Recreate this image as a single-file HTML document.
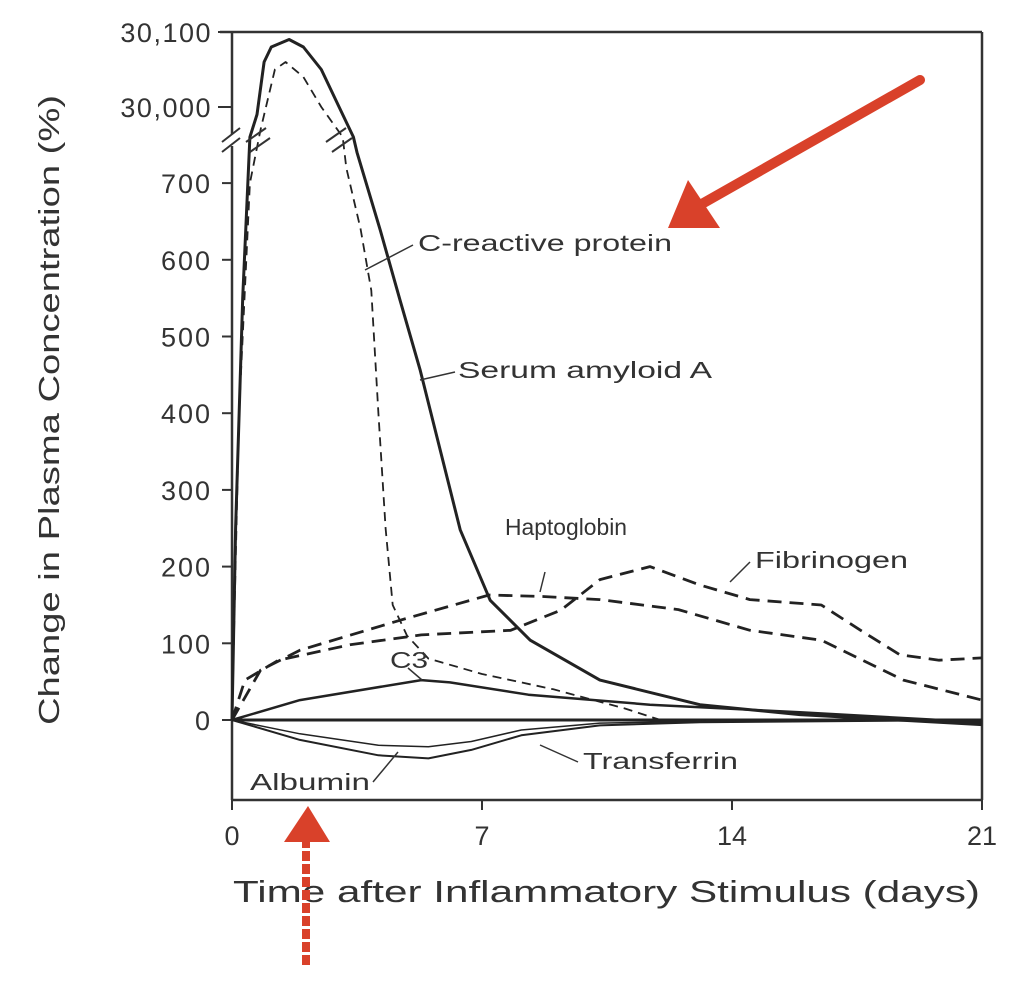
<!DOCTYPE html>
<html><head><meta charset="utf-8"><style>
html,body{margin:0;padding:0;background:#fff;}
svg{display:block;}
text{font-family:"Liberation Sans",sans-serif;fill:#333;}
</style></head><body>
<svg id="chart" width="1022" height="994" viewBox="0 0 1022 994" xmlns="http://www.w3.org/2000/svg">
<g id="frame"></g>
<g id="series"></g>
<g id="labels"></g>
</svg>
<script>
const xTicks=[0,7,14,21];
const yTicksLow=[0,100,200,300,400,500,600,700];
const yTicksHigh=[30000,30100];
const yTickLabelsHigh=["30,000","30,100"];
const saaDays=[0,0.1,0.3,0.5,0.7,0.9,1.1,1.6,2.0,2.5,3.0,3.4,3.5,4.15,4.7,5.27,5.83,6.39,7.23,8.35,10.3,13.1,15.9,21];
const saaVals=[0,250,550,760,29990,30060,30080,30090,30080,30050,30000,29960,740,639,548,456,352,248,156,104,52,20,7,-6];
const crpDays=[0,0.2,0.5,0.8,1.2,1.5,2.0,2.5,3.1,3.2,3.6,3.9,4.1,4.3,4.5,4.9,5.5,7,9,11,12,21];
const crpVals=[0,400,700,29970,30050,30060,30040,30000,29960,720,640,560,400,250,150,110,80,60,40,15,0,0];
const hapDays=[0,0.8,1.9,4.7,7.2,8.7,10.3,12.5,14.5,16.5,18.8,21];
const hapVals=[0,65,91,130,163,161,157,144,117,104,52,26];
const fibDays=[0,0.36,1.3,3.3,5.3,7.8,9.2,10.3,11.7,13.1,14.5,16.5,17.6,18.7,19.8,21];
const fibVals=[0,52,78,98,111,117,143,183,200,176,157,150,117,85,78,81];
const c3Days=[0,1.9,5.3,6.1,8.3,11.7,15.9,21];
const c3Vals=[0,26,52,49,33,20,10,-3];
const albDays=[0,1.9,4.1,5.5,6.7,8.1,10.3,13.1,21];
const albVals=[0,-26,-46,-50,-39,-20,-7,-3,0];
const trfDays=[0,1.9,4.1,5.5,6.7,8.1,10.3,13.1,21];
const trfVals=[0,-18,-33,-35,-28,-13,-4,-2,0];

const NS="http://www.w3.org/2000/svg";
const X0=232,X1=982;
function xs(d){return X0+(X1-X0)*d/21;}
function ys(v){return v>=29900?107-(v-30000)*0.75:720-v*0.767;}
function mk(tag,attrs,parent){const e=document.createElementNS(NS,tag);for(const k in attrs)e.setAttribute(k,attrs[k]);parent.appendChild(e);return e;}
const frame=document.getElementById('frame'),series=document.getElementById('series'),labels=document.getElementById('labels');

let l=mk('line',{x1:220,y1:32,x2:982,y2:32,stroke:'#333','stroke-width':2.5},frame);

l=mk('line',{x1:982,y1:32,x2:982,y2:800,stroke:'#333','stroke-width':2.5},frame);

l=mk('line',{x1:232,y1:800,x2:982,y2:800,stroke:'#333','stroke-width':2.5},frame);

l=mk('line',{x1:232,y1:32,x2:232,y2:134,stroke:'#333','stroke-width':2.5},frame);

l=mk('line',{x1:232,y1:146,x2:232,y2:800,stroke:'#333','stroke-width':2.5},frame);

l=mk('path',{d:'M222,142 L240,128 M222,152 L240,138',stroke:'#333','stroke-width':2,fill:'none'},frame);

l=mk('line',{x1:232,y1:ys(0),x2:982,y2:ys(0),stroke:'#222','stroke-width':3},frame);


yTicksLow.forEach(v=>{
  const t=mk('line',{x1:222,y1:ys(v),x2:232,y2:ys(v),stroke:'#333','stroke-width':2},frame);
  
  const tx=mk('text',{x:212,y:ys(v)+10,'text-anchor':'end','font-size':27,'letter-spacing':2},frame);tx.textContent=String(v);
  
});
yTicksHigh.forEach((v,i)=>{
  const t=mk('line',{x1:218,y1:ys(v),x2:232,y2:ys(v),stroke:'#333','stroke-width':2},frame);
  
  const tx=mk('text',{x:212,y:ys(v)+10,'text-anchor':'end','font-size':27,'letter-spacing':1.5},frame);tx.textContent=yTickLabelsHigh[i];
  
});
xTicks.forEach(d=>{
  const t=mk('line',{x1:xs(d),y1:800,x2:xs(d),y2:810,stroke:'#333','stroke-width':2},frame);
  
  const tx=mk('text',{x:xs(d),y:845,'text-anchor':'middle','font-size':27},frame);tx.textContent=d;
  
});
let tt=mk('text',{x:233,y:902,'font-size':31,textLength:747,lengthAdjust:'spacingAndGlyphs'},frame);tt.textContent='Time after Inflammatory Stimulus (days)';

tt=mk('text',{x:0,y:0,'font-size':29,textLength:630,lengthAdjust:'spacingAndGlyphs',transform:'translate(59,725) rotate(-90)'},frame);tt.textContent='Change in Plasma Concentration (%)';


function line(days,vals,name,w,dash){
  let d='';
  days.forEach((x,i)=>{d+=(i?' L':'M')+xs(x).toFixed(1)+','+ys(vals[i]).toFixed(1);});
  const p=mk('path',{d:d,fill:'none',stroke:'#222','stroke-width':w,'stroke-linejoin':'round','stroke-dasharray':dash||'none'},series);
  
  
}
line(saaDays,saaVals,'serum-amyloid-a-line',3);
line(crpDays,crpVals,'c-reactive-protein-line',1.8,'9,6');
line(hapDays,hapVals,'haptoglobin-line',2.8,'14,8');
line(fibDays,fibVals,'fibrinogen-line',2.8,'14,8');
line(c3Days,c3Vals,'c3-line',2.5);
line(albDays,albVals,'albumin-line',2);
line(trfDays,trfVals,'transferrin-line',1.5);

l=mk('path',{d:'M246,142 L266,128 M250,152 L270,138 M326,142 L346,128 M332,152 L352,138',stroke:'#333','stroke-width':2,fill:'none'},series);


const labs=[['C-reactive protein',418,251,254,'crp-label','M413,245 L365,270'],
['Serum amyloid A',458,378,254,'saa-label','M455,372 L420,380'],
['Haptoglobin',505,535,122,'haptoglobin-label','M545,572 L540,592'],
['Fibrinogen',755,568,153,'fibrinogen-label','M750,562 L730,582'],
['C3',390,668,38,'c3-label','M408,668 L422,680'],
['Transferrin',583,769,155,'transferrin-label','M578,762 L540,745'],
['Albumin',250,790,120,'albumin-label','M373,782 L398,752']];
labs.forEach(a=>{
  const t=mk('text',{x:a[1],y:a[2],'font-size':23,textLength:a[3],lengthAdjust:'spacingAndGlyphs'},labels);t.textContent=a[0];
  
  const p=mk('path',{d:a[5],stroke:'#333','stroke-width':1.5,fill:'none'},labels);
  
});
l=mk('line',{x1:920,y1:80,x2:700,y2:205,stroke:'#d9412a','stroke-width':10,'stroke-linecap':'round'},labels);

l=mk('polygon',{points:'668,228 688,180 720,228',fill:'#d9412a'},labels);

l=mk('line',{x1:306,y1:965,x2:306,y2:840,stroke:'#d9412a','stroke-width':8,'stroke-dasharray':'10,3'},labels);

l=mk('polygon',{points:'284,842 308,806 330,842',fill:'#d9412a'},labels);

</script>
</body></html>
